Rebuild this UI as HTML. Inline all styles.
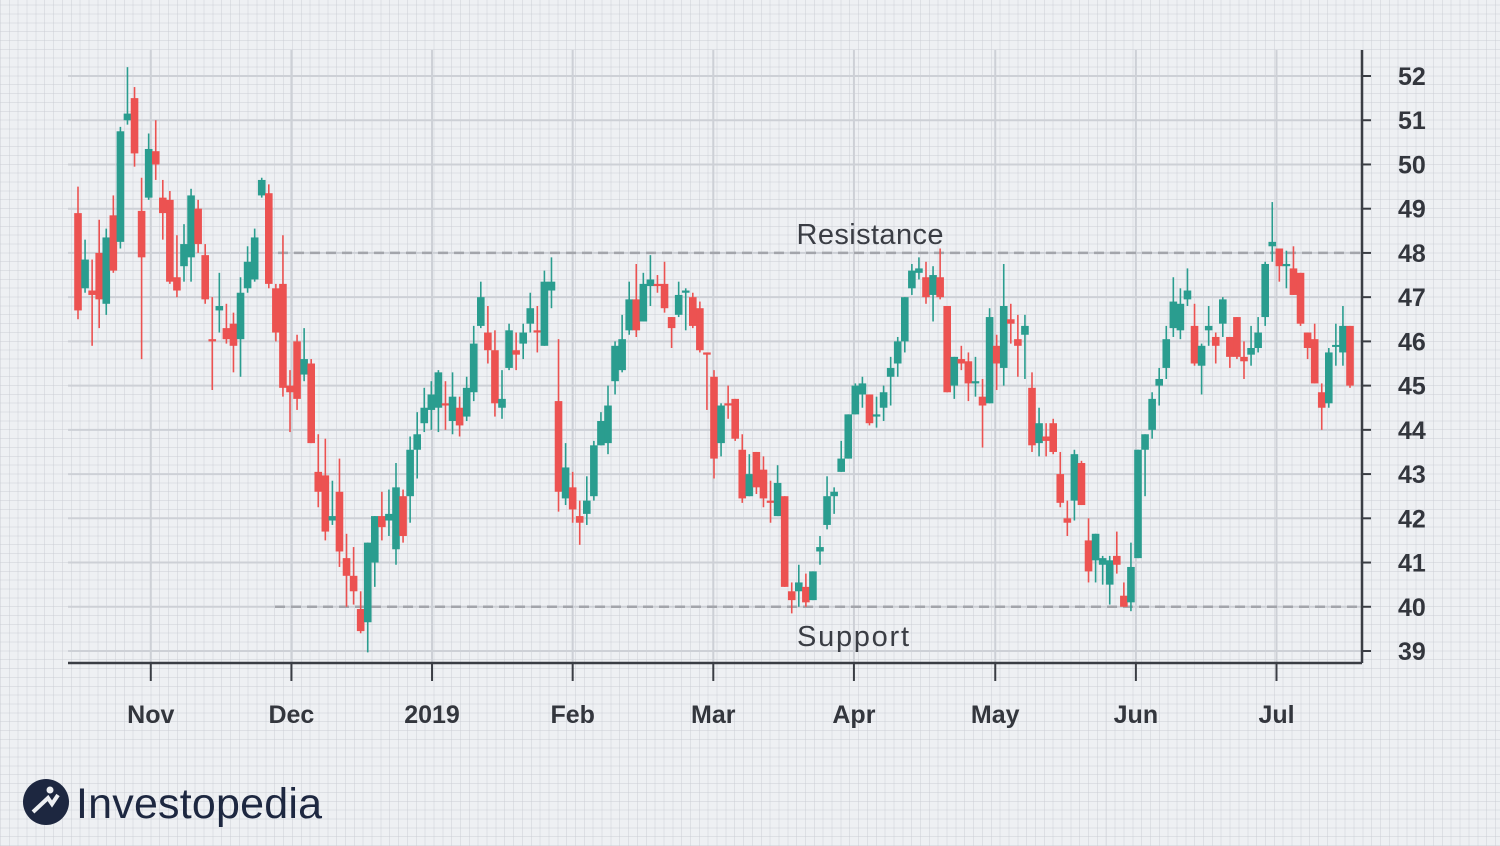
<!DOCTYPE html>
<html>
<head>
<meta charset="utf-8">
<style>
html,body{margin:0;padding:0;}
body{width:1500px;height:846px;overflow:hidden;background-color:#eef0f3;
background-image:
repeating-linear-gradient(0deg, rgba(200,203,210,0.45) 0 1px, transparent 1px 8.846px),
repeating-linear-gradient(90deg, rgba(200,203,210,0.45) 0 1px, transparent 1px 8.846px);
font-family:"Liberation Sans",sans-serif;}
svg{position:absolute;left:0;top:0;}
</style>
</head>
<body>
<svg id="chart" width="1500" height="846" viewBox="0 0 1500 846" xmlns="http://www.w3.org/2000/svg">
  <g id="grid"></g>
  <g id="levels"></g>
  <g id="candles"></g>
  <g id="axes"></g>
  <text x="870" y="244" text-anchor="middle" font-size="29" fill="#3a3d44" font-family="Liberation Sans, sans-serif" textLength="147">Resistance</text>
  <text x="853" y="646" text-anchor="middle" font-size="29" fill="#3a3d44" font-family="Liberation Sans, sans-serif" textLength="112">Support</text>
  <g>
    <circle cx="46" cy="802" r="23" fill="#1d2740"/>
    <circle cx="50" cy="790" r="3.5" fill="#eef0f3"/>
    <path d="M33 812 L48 798 L52 804 L58 795" stroke="#eef0f3" stroke-width="4" fill="none"/>
    <text x="76" y="818" font-size="43" fill="#1d2740" font-family="Liberation Sans, sans-serif" textLength="246">Investopedia</text>
  </g>
</svg>
<script>
const opens  = [48.9,47.2,47.15,48.0,46.85,48.85,48.25,51.0,51.5,48.95,49.25,50.3,49.25,49.2,47.45,47.7,47.9,49.0,47.95,46.05,46.7,46.3,46.4,46.05,47.2,47.4,49.3,49.35,47.2,47.3,45.0,46.0,45.25,45.5,43.05,42.97,41.95,42.6,41.1,40.7,39.95,39.65,41.0,42.05,41.95,41.3,42.5,42.5,43.55,44.15,44.45,44.5,44.6,44.2,44.5,44.3,44.85,46.35,46.2,45.8,44.5,45.4,45.8,45.95,46.4,46.25,45.9,47.15,44.65,42.45,42.7,42.05,42.1,42.5,43.65,43.7,45.1,45.35,46.25,46.95,46.45,47.25,47.3,47.3,46.55,46.6,47.1,47.0,46.75,45.75,45.2,43.7,44.6,44.7,43.55,42.5,43.5,43.1,42.4,42.05,42.5,40.35,40.35,40.45,40.15,41.25,41.85,42.5,43.05,43.35,44.35,44.8,44.8,44.3,44.5,45.2,45.5,46.0,47.2,47.55,47.45,47.05,47.45,46.8,45.0,45.6,45.55,45.05,44.75,44.6,45.9,45.4,46.5,46.05,46.15,44.95,43.7,43.85,44.15,43.0,42.0,42.4,43.25,41.5,41.05,40.95,40.5,41.15,40.25,40.1,41.1,43.55,44.0,45.0,45.4,46.3,46.25,46.95,46.35,45.45,46.25,46.1,46.4,46.1,46.55,45.65,45.7,45.85,46.55,48.15,48.1,47.7,47.65,47.55,46.2,46.05,44.85,44.6,45.9,45.75,46.35];
const highs  = [49.5,48.3,47.85,48.75,48.55,49.3,50.85,52.2,51.75,49.7,50.7,51.0,49.65,49.4,48.4,48.65,49.45,49.2,48.2,47.0,47.55,46.85,46.65,47.45,48.15,48.55,49.7,49.55,47.3,48.4,45.35,46.15,46.3,45.6,43.9,43.8,42.85,43.35,41.65,41.35,40.35,41.45,42.05,42.6,42.65,43.25,42.65,43.85,44.4,44.95,45.1,45.35,45.1,45.3,44.75,45.2,46.35,47.35,46.8,46.25,45.35,46.4,46.2,46.4,47.1,46.8,47.6,47.9,46.05,43.7,43.05,42.4,42.95,43.75,44.4,45.0,46.0,46.6,47.35,47.75,47.55,47.95,47.5,47.8,46.55,47.35,47.2,47.1,46.9,45.75,45.35,44.6,45.0,44.7,43.9,43.45,43.5,43.4,42.85,43.2,42.5,40.55,40.95,40.75,40.8,41.6,42.95,42.7,43.75,44.35,45.05,45.2,44.8,44.75,45.0,45.65,46.1,47.0,47.75,47.9,47.8,47.7,48.1,46.8,45.65,45.9,45.75,45.65,45.15,46.75,46.15,47.75,46.85,46.6,46.6,45.3,44.5,44.15,44.25,43.5,42.4,43.55,43.3,42.0,41.65,41.15,41.15,41.7,40.55,41.45,43.55,43.9,44.85,45.4,46.35,47.45,47.2,47.65,46.85,45.95,46.8,46.2,47.0,46.1,46.55,46.0,46.35,46.55,47.8,49.15,48.1,48.05,48.15,47.55,46.2,46.4,45.05,45.85,46.4,46.8,46.35];
const lows   = [46.5,47.1,45.9,46.3,46.6,47.55,48.1,50.9,49.95,45.6,49.2,49.65,48.3,47.3,47.0,47.35,47.35,48.0,46.85,44.9,46.2,45.95,45.3,45.2,47.1,47.35,49.25,47.2,46.0,44.75,43.95,44.45,45.1,43.7,42.25,41.5,41.85,40.9,40.0,40.05,39.4,38.97,40.45,41.5,41.6,40.95,41.45,41.9,42.9,43.95,44.0,43.95,44.0,43.9,43.85,44.2,44.65,46.3,45.5,44.3,44.25,45.35,45.35,45.6,46.2,45.75,45.9,46.75,42.15,42.3,41.9,41.4,41.85,42.4,43.65,43.45,44.8,45.3,46.15,46.1,46.45,46.8,47.1,46.65,45.85,46.55,46.25,46.3,45.75,44.45,42.9,43.4,44.25,43.75,42.35,42.5,42.55,42.25,41.9,42.05,40.45,39.85,40.0,40.0,40.15,40.95,41.75,42.1,43.05,43.35,44.35,44.5,44.1,44.05,44.2,44.55,45.2,45.75,47.05,47.4,46.85,46.45,46.95,44.85,44.7,45.35,44.65,44.75,43.6,44.6,44.9,45.0,45.95,45.2,45.15,43.5,43.4,43.4,43.45,42.25,41.6,41.95,42.3,40.55,40.55,40.5,40.05,40.75,40.0,39.9,41.1,42.5,43.8,44.55,45.15,46.1,46.05,46.8,45.45,44.8,45.9,45.5,46.1,45.4,45.6,45.15,45.45,45.75,46.35,47.8,47.35,47.2,47.05,46.35,45.6,45.05,44.0,44.5,45.45,45.45,44.95];
const closes = [46.7,47.85,47.05,46.95,48.35,47.6,50.75,51.15,50.25,47.9,50.35,50.0,48.9,47.35,47.15,48.2,49.3,48.2,46.95,46.0,46.8,46.05,45.9,47.1,47.8,48.35,49.65,47.3,46.2,44.95,44.85,44.7,45.6,43.7,42.6,41.7,42.05,41.25,40.7,40.35,39.45,41.45,42.05,41.8,42.1,42.7,41.6,43.55,43.9,44.5,44.8,45.3,44.55,44.75,44.1,44.95,45.95,47.0,45.8,44.6,44.7,46.25,45.7,46.2,46.75,46.2,47.35,47.35,42.6,43.15,42.2,41.9,42.4,43.65,44.2,44.55,45.9,46.05,46.95,46.25,47.3,47.4,47.25,46.75,46.3,47.05,47.15,46.35,45.8,45.7,43.35,44.55,44.55,43.8,42.45,43.0,42.7,42.45,42.35,42.8,40.45,40.15,40.55,40.1,40.8,41.35,42.5,42.6,43.35,44.35,45.0,45.05,44.15,44.35,44.85,45.4,46.0,47.0,47.6,47.65,47.0,47.5,47.0,44.85,45.65,45.5,45.05,45.1,44.55,46.55,45.5,46.8,46.4,45.9,46.35,43.65,44.15,43.75,43.5,42.35,41.9,43.45,42.3,40.8,41.65,41.1,41.05,40.95,40.0,40.9,43.55,43.9,44.7,45.15,46.05,46.9,46.85,47.15,45.5,45.9,46.35,45.9,46.95,45.65,45.65,45.55,45.85,46.2,47.75,48.25,47.7,47.75,47.05,46.4,45.85,45.05,44.5,45.75,45.92,46.35,45.0];
const priceTicks = [52,51,50,49,48,47,46,45,44,43,42,41,40,39];
const monthLabels = ["Nov","Dec","2019","Feb","Mar","Apr","May","Jun","Jul"];
const monthIndex = [10.3,30.2,50.1,70,89.9,109.8,129.8,149.7,169.6];
const resistance = 48;
const support = 40;

const NS = "http://www.w3.org/2000/svg";
const PLOT = {left:68, right:1362, top:50, bottom:663};
function yScale(p){ return 76 + (52 - p) * (575/13); }
function xScale(i){ return 78 + i * (1272 / (opens.length - 1)); }
function mk(tag, attrs, parent){
  const e = document.createElementNS(NS, tag);
  for (const k in attrs) e.setAttribute(k, attrs[k]);
  parent.appendChild(e); return e;
}
const grid = document.getElementById('grid');
const axes = document.getElementById('axes');
const candles = document.getElementById('candles');
const levels = document.getElementById('levels');

priceTicks.forEach(function(p){
  const y = yScale(p);
  const gl = mk('line', {x1:PLOT.left, x2:PLOT.right, y1:y, y2:y, stroke:'#cdd0d6', 'stroke-width':2}, grid);
  
  
  const tk = mk('line', {x1:PLOT.right, x2:PLOT.right+9, y1:y, y2:y, stroke:'#3a3d44', 'stroke-width':2}, axes);
  
  
  const t = mk('text', {x:1398, y:y+9, 'font-size':25, fill:'#33363d', 'text-anchor':'start', 'font-weight':'bold'}, axes);
  
  
  t.textContent = p;
});
monthIndex.forEach(function(mi, k){
  const x = xScale(mi);
  const gl = mk('line', {x1:x, x2:x, y1:PLOT.top, y2:PLOT.bottom, stroke:'#cdd0d6', 'stroke-width':2}, grid);
  
  
  const tk = mk('line', {x1:x, x2:x, y1:PLOT.bottom, y2:PLOT.bottom+18, stroke:'#3a3d44', 'stroke-width':2}, axes);
  
  
  const t = mk('text', {x:x, y:723, 'font-size':25, fill:'#33363d', 'text-anchor':'middle', 'font-weight':'bold'}, axes);
  
  
  t.textContent = monthLabels[k];
});
const xa = mk('line', {x1:PLOT.left, x2:PLOT.right, y1:PLOT.bottom, y2:PLOT.bottom, stroke:'#3a3d44', 'stroke-width':2.5}, axes);


const ya = mk('line', {x1:PLOT.right, x2:PLOT.right, y1:PLOT.top, y2:PLOT.bottom, stroke:'#3a3d44', 'stroke-width':2.5}, axes);



const rl = mk('line', {x1:278, x2:PLOT.right, y1:yScale(resistance), y2:yScale(resistance), stroke:'#a3a5ab', 'stroke-width':2.5, 'stroke-dasharray':'10 6'}, levels);


const sl = mk('line', {x1:275, x2:PLOT.right, y1:yScale(support), y2:yScale(support), stroke:'#a3a5ab', 'stroke-width':2.5, 'stroke-dasharray':'10 6'}, levels);



for (let i = 0; i < opens.length; i++){
  const up = closes[i] >= opens[i];
  const col = up ? '#2a9d8f' : '#ec5251';
  const x = xScale(i);
  const g = mk('g', {}, candles);
  
  
  mk('line', {x1:x, x2:x, y1:yScale(highs[i]), y2:yScale(lows[i]), stroke:col, 'stroke-width':1.6}, g);
  const top = yScale(Math.max(opens[i], closes[i]));
  const bot = yScale(Math.min(opens[i], closes[i]));
  mk('rect', {x:x-3.8, y:top, width:7.6, height:Math.max(bot-top, 2), fill:col}, g);
}
</script>
</body>
</html>
